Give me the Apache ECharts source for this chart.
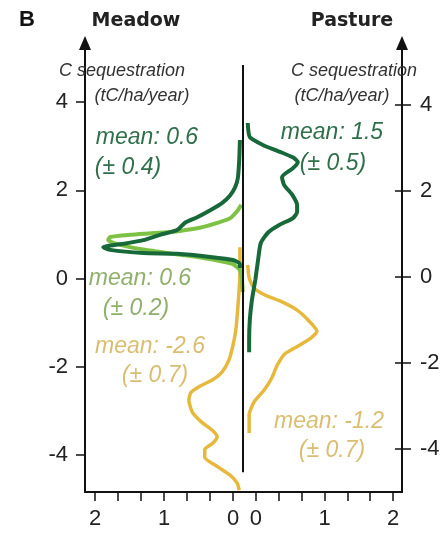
<!DOCTYPE html>
<html><head><meta charset="utf-8">
<script src="https://cdn.jsdelivr.net/npm/echarts@6/dist/echarts.min.js"></script>
<style>html,body{margin:0;padding:0;background:#fff}#c{width:446px;height:539px}</style>
</head><body><div id="c"></div>
<script>
// Tick values
const yTicks = [-4, -2, 0, 2, 4];
const xTicks = [0, 1, 2];
const xMinorTicks = [0, 1/3, 2/3, 1, 4/3, 5/3, 2];

// Each point: [density, C sequestration (tC/ha/year)]
const meadowDarkGreen = [
  [-0.10,3.14],[-0.09,2.69],[-0.07,2.28],[-0.03,2.07],[0.04,1.89],[0.16,1.71],[0.33,1.55],
  [0.52,1.39],[0.70,1.26],[0.81,1.10],[1.06,0.99],[1.30,0.87],[1.54,0.80],[1.88,0.71],
  [1.78,0.65],[1.30,0.58],[0.81,0.56],[0.33,0.49],[0.00,0.42],[-0.10,0.33],[-0.10,0.24]
];
const meadowLightGreen = [
  [-0.12,1.67],[-0.07,1.55],[0.04,1.37],[0.23,1.26],[0.48,1.15],[0.77,1.08],[1.13,1.03],
  [1.49,0.99],[1.78,0.94],[1.81,0.87],[1.67,0.78],[1.42,0.69],[1.13,0.62],[0.72,0.53],
  [0.26,0.42],[0.01,0.33],[-0.10,0.19],[-0.13,-0.03],[-0.14,-0.31]
];
const meadowYellow = [
  [-0.10,0.71],[-0.10,0.12],[-0.07,-0.65],[-0.04,-1.17],[0.00,-1.51],[0.06,-1.85],[0.16,-2.12],
  [0.30,-2.30],[0.48,-2.44],[0.61,-2.58],[0.64,-2.76],[0.59,-3.03],[0.46,-3.25],[0.30,-3.44],
  [0.23,-3.59],[0.29,-3.73],[0.41,-3.88],[0.41,-4.05],[0.22,-4.27],[0.04,-4.46],[-0.06,-4.64],[-0.09,-4.80]
];
const pastureDarkGreen = [
  [-0.12,3.57],[-0.09,3.24],[0.10,3.06],[0.35,2.90],[0.55,2.76],[0.61,2.66],[0.54,2.52],
  [0.38,2.31],[0.41,2.13],[0.53,1.90],[0.60,1.66],[0.60,1.50],[0.54,1.36],[0.34,1.20],
  [0.18,1.03],[0.07,0.78],[0.03,0.38],[-0.01,-0.08],[-0.06,-0.55],[-0.09,-1.01],[-0.10,-1.48],[-0.10,-1.76]
];
const pastureYellow = [
  [-0.12,0.27],[-0.10,-0.03],[-0.03,-0.27],[0.13,-0.43],[0.38,-0.59],[0.60,-0.78],[0.76,-1.01],
  [0.89,-1.27],[0.80,-1.43],[0.61,-1.62],[0.42,-1.80],[0.31,-2.06],[0.23,-2.36],[0.12,-2.64],
  [-0.03,-2.92],[-0.10,-3.22],[-0.10,-3.64]
];

const divider = { x: -0.145, top: 4.84, bottom: -4.39 };

const DARK = '#17693a', LIGHT = '#7dc245', YEL = '#e6b83c';
const TDARK = '#2f6f49', TLIGHT = '#8fb06c', TYEL = '#d9bd70';
const FF = '"Liberation Sans", Arial, sans-serif';

function yAx(grid, pos, min, max, margin) {
  return {
    type: 'value', gridIndex: grid, position: pos, min: min, max: max,
    splitLine: { show: false },
    axisLine: { show: true, onZero: false, lineStyle: { color: '#111', width: 2 }, symbol: ['none', 'triangle'], symbolSize: [12, 14] },
    axisTick: { show: true, length: 9, lineStyle: { color: '#111', width: 1.5 }, customValues: yTicks },
    axisLabel: { show: true, customValues: yTicks, margin: margin, fontSize: 22, color: '#222', fontFamily: FF }
  };
}
function xAx(grid, inverse, min, max) {
  return {
    type: 'value', gridIndex: grid, inverse: inverse, min: min, max: max,
    splitLine: { show: false },
    axisLine: { show: true, onZero: false, lineStyle: { color: '#111', width: 2 } },
    axisTick: { show: true, length: 9, lineStyle: { color: '#111', width: 1.5 }, customValues: xMinorTicks },
    axisLabel: { show: true, customValues: xTicks, margin: 16, fontSize: 22, color: '#222', fontFamily: FF }
  };
}
function ser(name, data, color, width, xi, yi, extra) {
  return Object.assign({
    name: name, type: 'line', data: data, xAxisIndex: xi, yAxisIndex: yi,
    showSymbol: false, smooth: 0.2, lineStyle: { color: color, width: width }, itemStyle: { color: color }
  }, extra || {});
}
function txt(x, y, s, color, size, style, weight, family) {
  return {
    type: 'text', x: x, y: y, z: 10,
    style: { text: s, fill: color, fontSize: size, fontStyle: style || 'normal', fontWeight: weight || 'normal',
             fontFamily: family || FF, align: 'center', verticalAlign: 'middle' }
  };
}

const chart = echarts.init(document.getElementById('c'), null, { renderer: 'canvas' });
chart.setOption({
  animation: false,
  backgroundColor: '#fff',
  grid: [
    { left: 85, top: 43, width: 159, height: 449 },
    { left: 244, top: 43, width: 158, height: 449 }
  ],
  xAxis: [ xAx(0, true, -0.159, 2.145), xAx(1, false, -0.175, 2.131) ],
  yAxis: [
    yAx(0, 'left', -4.84, 5.34, 17),
    yAx(1, 'right', -5.01, 5.43, 18),
    { type: 'value', gridIndex: 1, position: 'right', min: -5.01, max: 5.43,
      splitLine: { show: false }, axisLine: { show: false, onZero: false }, axisLabel: { show: false },
      axisTick: { show: true, inside: true, length: 7, lineStyle: { color: '#111', width: 1.5 }, customValues: yTicks } }
  ],
  series: [
    ser('Meadow yellow', meadowYellow, YEL, 3.5, 0, 0, {
      markLine: { symbol: 'none', silent: true, label: { show: false },
        lineStyle: { color: '#111', width: 2, type: 'solid' },
        data: [[{ coord: [divider.x, divider.top] }, { coord: [divider.x, divider.bottom] }]] }
    }),
    ser('Meadow light green', meadowLightGreen, LIGHT, 4, 0, 0),
    ser('Meadow dark green', meadowDarkGreen, DARK, 4, 0, 0),
    ser('Pasture yellow', pastureYellow, YEL, 3.5, 1, 1),
    ser('Pasture dark green', pastureDarkGreen, DARK, 4, 1, 1)
  ],
  graphic: [
    txt(27, 20, 'B', '#111', 22, 'normal', 'bold'),
    txt(136, 21, 'Meadow', '#222', 19, 'normal', 'bold', '"DejaVu Sans", sans-serif'),
    txt(352, 21, 'Pasture', '#222', 19, 'normal', 'bold', '"DejaVu Sans", sans-serif'),
    txt(122, 71, 'C sequestration', '#333', 18, 'italic'),
    txt(142, 96, '(tC/ha/year)', '#333', 18, 'italic'),
    txt(354, 71, 'C sequestration', '#333', 18, 'italic'),
    txt(342, 96, '(tC/ha/year)', '#333', 18, 'italic'),
    txt(147, 138, 'mean: 0.6', TDARK, 23, 'italic'),
    txt(128, 168, '(± 0.4)', TDARK, 23, 'italic'),
    txt(140, 279, 'mean: 0.6', TLIGHT, 23, 'italic'),
    txt(136, 309, '(± 0.2)', TLIGHT, 23, 'italic'),
    txt(150, 347, 'mean: -2.6', TYEL, 23, 'italic'),
    txt(155, 376, '(± 0.7)', TYEL, 23, 'italic'),
    txt(332, 133, 'mean: 1.5', TDARK, 23, 'italic'),
    txt(333, 164, '(± 0.5)', TDARK, 23, 'italic'),
    txt(329, 422, 'mean: -1.2', TYEL, 23, 'italic'),
    txt(332, 451, '(± 0.7)', TYEL, 23, 'italic')
  ]
});
</script>
</body></html>
